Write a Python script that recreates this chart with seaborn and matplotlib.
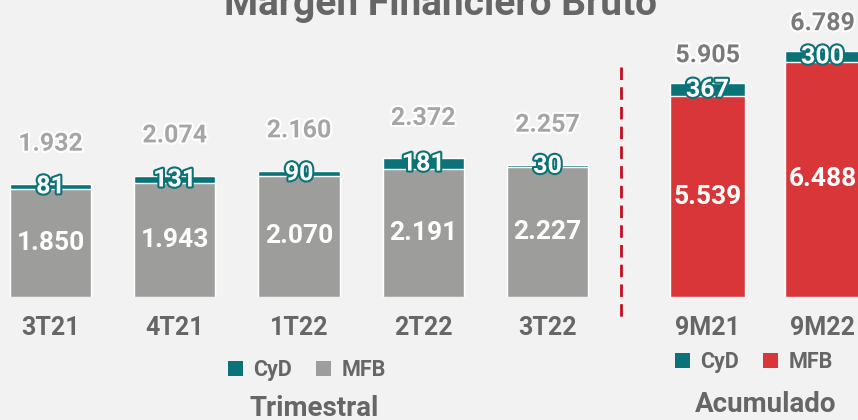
import matplotlib
matplotlib.use("Agg")
import matplotlib.pyplot as plt
import matplotlib.patheffects as pe
from matplotlib.lines import Line2D
from matplotlib.patches import Patch
import seaborn as sns
import pandas as pd

# Quarterly figures
quarters = ["3T21", "4T21", "1T22", "2T22", "3T22"]
q_mfb = [1850, 1943, 2070, 2191, 2227]
q_cyd = [81, 131, 90, 181, 30]
q_total = [1932, 2074, 2160, 2372, 2257]

# Year-to-date figures
periods = ["9M21", "9M22"]
a_mfb = [5539, 6488]
a_cyd = [367, 300]
a_total = [5905, 6789]

BG = "#f2f2f2"
TEAL = "#0b7278"
GREY = "#9d9d9b"
RED = "#d83638"
TXT = "#666666"

sns.set_theme(style="white")
plt.rcParams["font.family"] = ["Roboto", "DejaVu Sans"]

W, H = 858, 420
fig = plt.figure(figsize=(W / 100, H / 100), dpi=100, facecolor=BG)

BASE = 297  # bar baseline, pixels from top


def make_axes(x0, x1):
    return fig.add_axes([x0 / W, (H - BASE) / H, (x1 - x0) / W, BASE / H])


ax1 = make_axes(0, 621)
ax2 = make_axes(621, 858)
for ax in (ax1, ax2):
    ax.set_facecolor(BG)
    for s in ax.spines.values():
        s.set_visible(False)
    ax.set_yticks([])

dfq = pd.DataFrame({"cat": quarters, "mfb": q_mfb, "cyd": q_cyd, "total": q_total})
dfa = pd.DataFrame({"cat": periods, "mfb": a_mfb, "cyd": a_cyd, "total": a_total})


def fmt(v):
    return f"{v:,}".replace(",", ".")


def draw(ax, df, mfb_color, width, total_color, total_off):
    # full-height bars in teal, MFB drawn over them so the teal cap is CyD
    sns.barplot(data=df, x="cat", y="total", color=TEAL, width=width,
                saturation=1, ax=ax, zorder=2)
    sns.barplot(data=df, x="cat", y="mfb", color=mfb_color, width=width,
                saturation=1, ax=ax, zorder=3)
    for i, r in df.iterrows():
        ax.text(i, r["mfb"] / 2, fmt(r["mfb"]), ha="center", va="center",
                color="white", fontsize=19, fontweight="bold", zorder=5)
        ax.text(i, (r["mfb"] + r["total"]) / 2, f"{r['cyd']}", ha="center",
                va="center", color="white", fontsize=18, fontweight="bold", zorder=5,
                path_effects=[pe.withStroke(linewidth=3, foreground=TEAL)])
        ax.annotate(fmt(r["total"]), (i, r["total"]),
                    xytext=(0, total_off), textcoords="offset points",
                    ha="center", va="center", color=total_color, fontsize=18,
                    fontweight="bold", zorder=5, annotation_clip=False,
                    path_effects=[pe.withStroke(linewidth=3, foreground="white")])
    ax.set_xlabel("")
    ax.set_ylabel("")
    ax.tick_params(axis="x", length=0, pad=14, labelsize=18, labelcolor=TXT)
    for t in ax.get_xticklabels():
        t.set_fontweight("bold")


draw(ax1, dfq, GREY, 0.652, "#a5a5a5", 29)
draw(ax2, dfa, RED, 0.652, "#7a7a7a", 20)

# x limits so bar centres land on an even grid
ax1.set_xlim(-50.5 / 124.25, -50.5 / 124.25 + 621 / 124.25)
ax1.set_ylim(0, BASE / 0.0585)
ax2.set_xlim((621 - 707.5) / 115, (621 - 707.5) / 115 + 237 / 115)
ax2.set_ylim(0, BASE / 0.03624)

# separator between quarterly and cumulative panels
fig.add_artist(Line2D([621 / W, 621 / W], [1 - 67 / H, 1 - 320 / H], color="#c20e1e",
                      lw=2, linestyle=(0, (4.5, 2.6))))

fig.text(441 / W, 1 - 15 / H, "Margen Financiero Bruto", ha="center", va="baseline",
         fontsize=28, fontweight="bold", color=TXT)


def legend(mfb_color, cx, cy):
    handles = [Patch(facecolor=TEAL, edgecolor="none", label="CyD"),
               Patch(facecolor=mfb_color, edgecolor="none", label="MFB")]
    fig.legend(handles=handles, loc="center", bbox_to_anchor=(cx / W, 1 - cy / H),
               ncol=2, frameon=False, handlelength=0.7, handleheight=0.7,
               handletextpad=0.5, columnspacing=1.1,
               prop={"size": 15.5, "weight": "bold"}, labelcolor=TXT)


legend(GREY, 307, 370)
legend(RED, 754, 362)

fig.text(314 / W, 1 - 408 / H, "Trimestral", ha="center", va="center",
         fontsize=20, fontweight="bold", color=TXT)
fig.text(766 / W, 1 - 405 / H, "Acumulado", ha="center", va="center",
         fontsize=20, fontweight="bold", color=TXT)

fig.savefig("out.png", dpi=100, facecolor=BG)
